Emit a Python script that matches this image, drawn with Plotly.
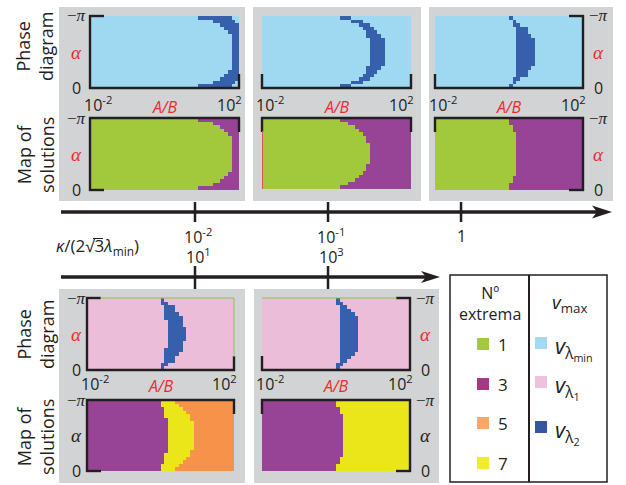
import numpy as np
import plotly.graph_objects as go

W, H = 626, 485

# ---------------------------------------------------------------- categories
LBLUE, DBLUE, PINK, GREEN, PURPLE, ORANGE, YELLOW = range(7)
palette = ['#9ED9F1', '#3760AC', '#EBBDD8', '#A2C83B', '#974396', '#F7924A', '#EBE61A']
GRAY = '#D1D3D4'
RED = '#EE2A2E'
INK = '#231F20'

# ------------------------------------------------- grid of the (A/B, alpha) maps
N_COLS, N_ROWS = 40, 20
log_ab_edges = np.linspace(-2, 2, N_COLS + 1)
log_ab = (log_ab_edges[:-1] + log_ab_edges[1:]) / 2
alpha_edges = np.linspace(-np.pi, 0, N_ROWS + 1)
alpha = (alpha_edges[:-1] + alpha_edges[1:]) / 2

# ---------------------------------- region boundaries in log10(A/B), row 0 = -pi
# kappa/(2 sqrt3 lambda_min) = 1e-2
p1_phase_inner = [0.9, 1.3, 1.5, 1.6, 1.7, 1.8, 1.8, 1.8, 1.8, 1.8,
                  1.8, 1.8, 1.8, 1.8, 1.8, 1.7, 1.6, 1.5, 1.3, 0.9]
p1_phase_outer = [1.8, 1.9, 2.1, 2.1, 2.1, 2.1, 2.1, 2.1, 2.1, 2.1,
                  2.1, 2.1, 2.1, 2.1, 2.1, 2.1, 2.1, 2.1, 1.9, 1.8]
p1_map_b = [0.9, 1.3, 1.5, 1.6, 1.7, 1.8, 1.8, 1.8, 1.8, 1.8,
            1.8, 1.8, 1.8, 1.8, 1.8, 1.7, 1.6, 1.5, 1.3, 0.9]
# kappa/(2 sqrt3 lambda_min) = 1e-1
p2_phase_inner = [0.1, 0.4, 0.6, 0.7, 0.8, 0.8, 0.9, 0.9, 0.9, 0.9,
                  0.9, 0.9, 0.9, 0.9, 0.8, 0.8, 0.7, 0.6, 0.4, 0.1]
p2_phase_outer = [0.4, 0.7, 0.9, 1.0, 1.1, 1.2, 1.3, 1.3, 1.3, 1.3,
                  1.3, 1.3, 1.3, 1.3, 1.2, 1.1, 1.0, 0.9, 0.7, 0.4]
p2_map_b = [0.1, 0.3, 0.5, 0.6, 0.7, 0.8, 0.8, 0.9, 0.9, 0.9,
            0.9, 0.9, 0.9, 0.8, 0.8, 0.7, 0.6, 0.5, 0.3, 0.1]
# kappa/(2 sqrt3 lambda_min) = 1
p3_phase_inner = [0.0, 0.1, 0.1, 0.2, 0.2, 0.2, 0.2, 0.2, 0.2, 0.2,
                  0.2, 0.2, 0.2, 0.2, 0.2, 0.2, 0.2, 0.1, 0.1, 0.0]
p3_phase_outer = [0.1, 0.2, 0.3, 0.5, 0.5, 0.6, 0.7, 0.7, 0.7, 0.7,
                  0.7, 0.7, 0.7, 0.7, 0.6, 0.5, 0.5, 0.3, 0.2, 0.1]
p3_map_b = [0.0, 0.0, 0.1, 0.1, 0.2, 0.2, 0.2, 0.2, 0.2, 0.2,
            0.2, 0.2, 0.2, 0.2, 0.2, 0.2, 0.1, 0.1, 0.0, 0.0]
# lower row: 1e1
p4_phase_inner = [0.0, 0.0, 0.1, 0.1, 0.1, 0.1, 0.2, 0.2, 0.2, 0.2,
                  0.2, 0.2, 0.2, 0.2, 0.1, 0.1, 0.1, 0.1, 0.0, 0.0]
p4_phase_outer = [0.1, 0.2, 0.4, 0.4, 0.5, 0.6, 0.6, 0.6, 0.7, 0.7,
                  0.7, 0.7, 0.6, 0.6, 0.6, 0.5, 0.4, 0.4, 0.2, 0.1]
p4_map_b1 = [0.0, 0.0, 0.1, 0.1, 0.1, 0.2, 0.2, 0.2, 0.2, 0.2,
             0.2, 0.2, 0.2, 0.2, 0.2, 0.1, 0.1, 0.1, 0.0, 0.0]
p4_map_b2 = [0.4, 0.5, 0.6, 0.7, 0.8, 0.8, 0.9, 0.9, 0.9, 0.9,
             0.9, 0.9, 0.9, 0.9, 0.8, 0.8, 0.7, 0.6, 0.5, 0.4]
# lower row: 1e3
p5_phase_inner = [0.0, 0.0, 0.1, 0.1, 0.1, 0.1, 0.1, 0.1, 0.1, 0.1,
                  0.1, 0.1, 0.1, 0.1, 0.1, 0.1, 0.1, 0.1, 0.0, 0.0]
p5_phase_outer = [0.1, 0.2, 0.3, 0.4, 0.5, 0.6, 0.6, 0.6, 0.6, 0.6,
                  0.6, 0.6, 0.6, 0.6, 0.6, 0.5, 0.4, 0.3, 0.2, 0.1]
p5_map_b = [0.0, 0.0, 0.1, 0.1, 0.2, 0.2, 0.2, 0.2, 0.2, 0.2,
            0.2, 0.2, 0.2, 0.2, 0.2, 0.2, 0.1, 0.1, 0.0, 0.0]

# ------------------------------------------------------------------ tick texts
ab_ticks = ['10<sup>-2</sup>', '10<sup>2</sup>']
ab_title = 'A/B'
alpha_ticks = ['\u2212\u03c0', '\u03b1', '0']
kappa_top_vals = [-2, -1, 0]
kappa_top_text = ['10<sup>-2</sup>', '10<sup>-1</sup>', '1']
kappa_bot_vals = [1, 3]
kappa_bot_text = ['10<sup>1</sup>', '10<sup>3</sup>']
extrema_labels = ['1', '3', '5', '7']
extrema_colors = ['#A2C83B', '#A23A86', '#F9A66A', '#F2EC2A']
vmax_labels = ['<i>v</i><sub>\u03bb<sub>min</sub></sub>',
               '<i>v</i><sub>\u03bb<sub>1</sub></sub>',
               '<i>v</i><sub>\u03bb<sub>2</sub></sub>']
vmax_colors = ['#A5D8F2', '#EDC3DC', '#34589F']


def band(bg, fg, inner, outer):
    z = []
    for r in range(N_ROWS):
        z.append([fg if inner[r] <= x < outer[r] else bg for x in log_ab])
    return z


def regions(colors, bounds):
    z = []
    for r in range(N_ROWS):
        row = []
        for x in log_ab:
            k = sum(1 for b in bounds if x >= b[r])
            row.append(colors[k])
        z.append(row)
    return z


SANS = 'Open Sans'
SERIF = 'Liberation Serif'

# (box in px, z, frame sides, label side, alpha colour)
maps = [
    ((90, 16, 239, 88), band(LBLUE, DBLUE, p1_phase_inner, p1_phase_outer),
     [('L', 'full'), ('B', 'full'), ('T', 'start'), ('R', 'end')], 'left', RED),
    ((90, 118, 239, 190), regions([GREEN, PURPLE], [p1_map_b]),
     [('L', 'full'), ('T', 'full'), ('B', 'start'), ('R', 'start')], 'left', RED),
    ((262, 16, 411, 88), band(LBLUE, DBLUE, p2_phase_inner, p2_phase_outer),
     [('B', 'full'), ('L', 'end'), ('R', 'end')], None, RED),
    ((262, 118, 411, 189), regions([GREEN, PURPLE], [p2_map_b]),
     [('T', 'full'), ('L', 'start'), ('R', 'start')], None, RED),
    ((435, 16, 583, 88), band(LBLUE, DBLUE, p3_phase_inner, p3_phase_outer),
     [('R', 'full'), ('B', 'full'), ('T', 'end'), ('L', 'end')], 'right', RED),
    ((435, 118, 583, 190), regions([GREEN, PURPLE], [p3_map_b]),
     [('R', 'full'), ('T', 'full'), ('B', 'end'), ('L', 'start')], 'right', RED),
    ((87, 298, 234, 370), band(PINK, DBLUE, p4_phase_inner, p4_phase_outer),
     [('L', 'full'), ('B', 'full'), ('T', 'start'), ('R', 'end')], 'left', RED),
    ((87, 400, 234, 471), regions([PURPLE, YELLOW, ORANGE], [p4_map_b1, p4_map_b2]),
     [('L', 'full'), ('T', 'full'), ('B', 'start'), ('R', 'start')], 'left', INK),
    ((262, 298, 410, 370), band(PINK, DBLUE, p5_phase_inner, p5_phase_outer),
     [('R', 'full'), ('B', 'full'), ('T', 'end'), ('L', 'end')], 'right', RED),
    ((262, 400, 410, 471), regions([PURPLE, YELLOW], [p5_map_b]),
     [('R', 'full'), ('T', 'full'), ('B', 'end'), ('L', 'start')], 'right', INK),
]

panels_bg = [(59, 7, 245, 201), (253, 7, 421, 201), (429, 7, 613, 201),
             (59, 289, 245, 483), (254, 289, 439, 483)]

colorscale = []
for k, c in enumerate(palette):
    colorscale.append([k / 7, c])
    colorscale.append([(k + 1) / 7, c])


def fx(x):
    return x / W


def fy(y):
    return 1 - y / H


fig = go.Figure()
shapes = []
ann = []
layout = {}

for (x0, y0, x1, y1) in panels_bg:
    shapes.append(dict(type='rect', xref='paper', yref='paper', layer='below',
                       x0=fx(x0), x1=fx(x1), y0=fy(y0), y1=fy(y1),
                       fillcolor=GRAY, line=dict(width=0)))

SL = 13
LW = 2.4
for i, (box, z, sides, lab, acol) in enumerate(maps):
    n = i + 1
    xa = 'x' if n == 1 else f'x{n}'
    ya = 'y' if n == 1 else f'y{n}'
    x0, y0, x1, y1 = box
    fig.add_trace(go.Heatmap(x=log_ab, y=alpha, z=z, colorscale=colorscale,
                             zmin=-0.5, zmax=6.5, showscale=False,
                             xaxis=xa, yaxis=ya, hoverinfo='skip'))
    layout['xaxis' if n == 1 else f'xaxis{n}'] = dict(
        domain=[fx(x0), fx(x1)], range=[-2, 2], visible=False,
        fixedrange=True, anchor=ya)
    layout['yaxis' if n == 1 else f'yaxis{n}'] = dict(
        domain=[fy(y1), fy(y0)], range=[0, -np.pi], visible=False,
        fixedrange=True, anchor=xa)

    # bracket-style frame
    for side, kind in sides:
        if side in ('L', 'R'):
            xx = x0 if side == 'L' else x1
            if kind == 'full':
                a, b = y0, y1
            elif kind == 'start':
                a, b = y0, y0 + SL
            else:
                a, b = y1 - SL, y1
            shapes.append(dict(type='line', xref='paper', yref='paper',
                               x0=fx(xx), x1=fx(xx), y0=fy(a - 1), y1=fy(b + 1),
                               line=dict(color=INK, width=LW)))
        else:
            yy = y0 if side == 'T' else y1
            if kind == 'full':
                a, b = x0, x1
            elif kind == 'start':
                a, b = x0, x0 + SL
            else:
                a, b = x1 - SL, x1
            shapes.append(dict(type='line', xref='paper', yref='paper',
                               x0=fx(a - 1), x1=fx(b + 1), y0=fy(yy), y1=fy(yy),
                               line=dict(color=INK, width=LW)))

    # alpha tick labels
    if lab is not None:
        lx = 76 if lab == 'left' else x1 + 15
        for val, txt in zip([-np.pi, -np.pi / 2, 0], alpha_ticks):
            if txt == '0':
                font = dict(family=SANS, size=16, color=INK)
                t = txt
            elif txt == '\u03b1':
                font = dict(family=SERIF, size=19, color=acol)
                t = f'<i>{txt}</i>'
            else:
                font = dict(family=SERIF, size=17, color=INK)
                t = '\u2212<i>\u03c0</i>'
            ann.append(dict(xref='paper', yref=ya, x=fx(lx), y=val, text=t,
                            showarrow=False, xanchor='center', yanchor='middle',
                            font=font))

    # A/B tick labels under each phase diagram
    if i % 2 == 0:
        ty = y1 + (16 if y1 < 200 else 13)
        for val, txt, sh in zip([-2, 2], ab_ticks, [8, -10]):
            ann.append(dict(xref=xa, yref='paper', x=val, y=fy(ty), xshift=sh,
                            text=txt, showarrow=False, xanchor='center',
                            yanchor='middle',
                            font=dict(family=SANS, size=16, color=INK)))
        ann.append(dict(xref=xa, yref='paper', x=0, y=fy(ty + 3),
                        text=f'<i>{ab_title}</i>', showarrow=False,
                        xanchor='center', yanchor='middle',
                        font=dict(family=SANS, size=16, color=RED)))

# side titles
for text, cy in [('Phase<br>diagram', 47), ('Map of<br>solutions', 155),
                 ('Phase<br>diagram', 335), ('Map of<br>solutions', 437)]:
    ann.append(dict(xref='paper', yref='paper', x=fx(35), y=fy(cy), text=text,
                    textangle=-90, showarrow=False, xanchor='center',
                    yanchor='middle',
                    font=dict(family=SANS, size=18, color=INK)))

# thin edge lines left by the rasterised maps
for (a, b, c, d, col) in [(100, 298, 234, 298, '#8DC63F'),
                          (234, 298, 234, 357, '#8DC63F'),
                          (262, 298, 397, 298, '#8DC63F'),
                          (262.5, 131, 262.5, 189, '#E0505A')]:
    shapes.append(dict(type='line', xref='paper', yref='paper',
                       x0=fx(a), x1=fx(c), y0=fy(b), y1=fy(d),
                       line=dict(color=col, width=1)))

# --------------------------------------------------------- kappa axes (arrows)
# top: log10 kappa/(2 sqrt3 lambda_min), 1e-2 at x=195px, 1 at 461px
layout['xaxis11'] = dict(domain=[fx(61), fx(612)], range=[-3.0075, 1.135],
                         visible=False, fixedrange=True, anchor='y11')
layout['yaxis11'] = dict(domain=[fy(222), fy(202)], range=[0, 1], visible=False,
                         fixedrange=True, anchor='x11')
layout['xaxis12'] = dict(domain=[fx(61), fx(439)], range=[-1.015, 4.669],
                         visible=False, fixedrange=True, anchor='y12')
layout['yaxis12'] = dict(domain=[fy(288), fy(267)], range=[0, 1], visible=False,
                         fixedrange=True, anchor='x12')

AY1, AY2 = 212, 277
shapes.append(dict(type='line', xref='paper', yref='paper', x0=fx(61), x1=fx(600),
                   y0=fy(AY1), y1=fy(AY1), line=dict(color=INK, width=3.5)))
shapes.append(dict(type='path', xref='paper', yref='paper', fillcolor=INK,
                   line=dict(width=0),
                   path=f'M {fx(612)} {fy(AY1)} L {fx(592)} {fy(AY1 - 6.5)} '
                        f'L {fx(597)} {fy(AY1)} L {fx(592)} {fy(AY1 + 6.5)} Z'))
shapes.append(dict(type='line', xref='paper', yref='paper', x0=fx(61), x1=fx(428),
                   y0=fy(AY2), y1=fy(AY2), line=dict(color=INK, width=3.5)))
shapes.append(dict(type='path', xref='paper', yref='paper', fillcolor=INK,
                   line=dict(width=0),
                   path=f'M {fx(440)} {fy(AY2)} L {fx(421)} {fy(AY2 - 6)} '
                        f'L {fx(426)} {fy(AY2)} L {fx(421)} {fy(AY2 + 6)} Z'))
for v in kappa_top_vals:
    shapes.append(dict(type='line', xref='x11', yref='paper', x0=v, x1=v,
                       y0=fy(202), y1=fy(222), line=dict(color=INK, width=2.5)))
for v in kappa_bot_vals:
    shapes.append(dict(type='line', xref='x12', yref='paper', x0=v, x1=v,
                       y0=fy(266), y1=fy(289), line=dict(color=INK, width=2.5)))
for v, t in zip(kappa_top_vals, kappa_top_text):
    ann.append(dict(xref='x11', yref='paper', x=v, y=fy(236), text=t,
                    xshift=3 if t != '1' else 0,
                    showarrow=False, xanchor='center', yanchor='middle',
                    font=dict(family=SANS, size=16, color=INK)))
for v, t in zip(kappa_bot_vals, kappa_bot_text):
    ann.append(dict(xref='x12', yref='paper', x=v, y=fy(256), text=t, xshift=3,
                    showarrow=False, xanchor='center', yanchor='middle',
                    font=dict(family=SANS, size=16, color=INK)))
ann.append(dict(xref='paper', yref='paper', x=fx(54), y=fy(247),
                text='<i>\u03ba</i>/(2\u221a3<i>\u03bb</i><sub>min</sub>)',
                showarrow=False, xanchor='left', yanchor='middle',
                font=dict(family=SANS, size=17, color=INK)))
# vinculum of the square root
shapes.append(dict(type='line', xref='paper', yref='paper', x0=fx(93), x1=fx(103),
                   y0=fy(238.5), y1=fy(238.5), line=dict(color=INK, width=1)))

# ------------------------------------------------------------------ legend box
LX0, LY0, LX1, LY1, LXM = 450, 275, 607, 482, 529
shapes.append(dict(type='rect', xref='paper', yref='paper', x0=fx(LX0), x1=fx(LX1),
                   y0=fy(LY1), y1=fy(LY0), line=dict(color=INK, width=1.5),
                   fillcolor='white'))
shapes.append(dict(type='line', xref='paper', yref='paper', x0=fx(LXM), x1=fx(LXM),
                   y0=fy(LY1), y1=fy(LY0), line=dict(color=INK, width=2)))
ann.append(dict(xref='paper', yref='paper', x=fx(490), y=fy(303),
                text='N\u00ba<br>extrema', showarrow=False, xanchor='center',
                yanchor='middle', font=dict(family=SANS, size=16, color=INK)))
ann.append(dict(xref='paper', yref='paper', x=fx(550), y=fy(303),
                text='<i>v</i><sub>max</sub>', showarrow=False, xanchor='left',
                yanchor='middle', font=dict(family=SANS, size=19, color=INK)))
for lab, col, cy in zip(extrema_labels, extrema_colors, [344, 384, 423, 463]):
    shapes.append(dict(type='rect', xref='paper', yref='paper', x0=fx(477),
                       x1=fx(489), y0=fy(cy + 6), y1=fy(cy - 6), fillcolor=col,
                       line=dict(width=0)))
    ann.append(dict(xref='paper', yref='paper', x=fx(496), y=fy(cy), text=lab,
                    showarrow=False, xanchor='left', yanchor='middle',
                    font=dict(family=SANS, size=17, color=INK)))
for lab, col, cy in zip(vmax_labels, vmax_colors, [343, 382, 427]):
    shapes.append(dict(type='rect', xref='paper', yref='paper', x0=fx(535),
                       x1=fx(547), y0=fy(cy + 6), y1=fy(cy - 6), fillcolor=col,
                       line=dict(width=0)))
    ann.append(dict(xref='paper', yref='paper', x=fx(553), y=fy(cy + 4), text=lab,
                    showarrow=False, xanchor='left', yanchor='middle',
                    font=dict(family=SANS, size=22, color=INK)))

fig.update_layout(width=W, height=H, margin=dict(l=0, r=0, t=0, b=0),
                  paper_bgcolor='white', plot_bgcolor='rgba(0,0,0,0)',
                  showlegend=False, shapes=shapes, annotations=ann, **layout)
fig.write_html('out.html')
